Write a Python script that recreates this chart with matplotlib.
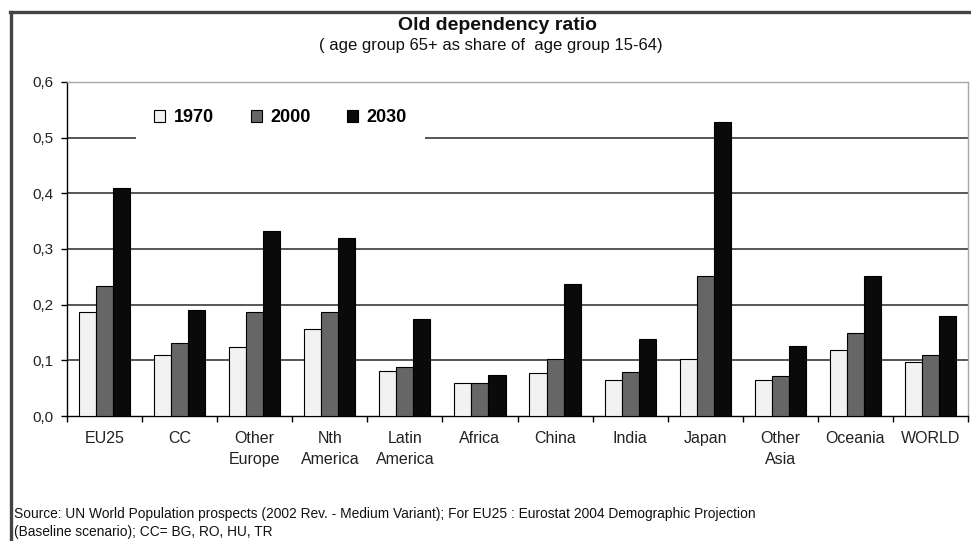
import matplotlib
matplotlib.use("Agg")
import matplotlib.pyplot as plt
import numpy as np
from matplotlib.patches import Patch
from matplotlib.lines import Line2D

plt.rcParams['font.family'] = ['Liberation Sans', 'DejaVu Sans']

categories = ["EU25", "CC", "Other\nEurope", "Nth\nAmerica", "Latin\nAmerica", "Africa",
              "China", "India", "Japan", "Other\nAsia", "Oceania", "WORLD"]
v1970 = [0.187, 0.109, 0.124, 0.156, 0.080, 0.060, 0.077, 0.065, 0.102, 0.065, 0.118, 0.097]
v2000 = [0.234, 0.131, 0.187, 0.187, 0.088, 0.060, 0.102, 0.079, 0.252, 0.072, 0.150, 0.109]
v2030 = [0.410, 0.190, 0.332, 0.320, 0.174, 0.073, 0.238, 0.139, 0.529, 0.126, 0.252, 0.179]
series_names = ["1970", "2000", "2030"]
series_colors = ["#f2f2f2", "#666666", "#0a0a0a"]
yticks = [0.0, 0.1, 0.2, 0.3, 0.4, 0.5, 0.6]
ytick_labels = ["0,0", "0,1", "0,2", "0,3", "0,4", "0,5", "0,6"]

W, H = 971, 541
fig = plt.figure(figsize=(W / 100, H / 100), dpi=100)
ax = fig.add_axes([67 / W, 1 - 416 / H, (968 - 67) / W, (416 - 82) / H])

x = np.arange(len(categories))
bw = 0.227
for i, (vals, col) in enumerate(zip([v1970, v2000, v2030], series_colors)):
    ax.bar(x + (i - 1) * bw, vals, width=bw, color=col, edgecolor="black",
           linewidth=0.8, zorder=3)

ax.set_xlim(-0.5, len(categories) - 0.5)
ax.set_ylim(0, 0.6)
ax.set_yticks(yticks)
ax.set_yticklabels(ytick_labels, fontsize=11, color="#222222")
ax.tick_params(axis="y", length=4, width=1, pad=6, color="black")
ax.set_xticks(x)
ax.set_xticklabels(categories, fontsize=11.5, color="#222222", linespacing=1.45)
ax.tick_params(axis="x", which="major", length=0, pad=11)
ax.set_xticks(np.arange(-0.5, len(categories) + 0.5, 1), minor=True)
ax.tick_params(axis="x", which="minor", length=4, width=1, color="black")

for yv in yticks[1:-1]:
    ax.axhline(yv, color="#3a3a3a", linewidth=1.2, zorder=1)

ax.spines["left"].set_color("black")
ax.spines["left"].set_linewidth(1.0)
ax.spines["bottom"].set_color("black")
ax.spines["bottom"].set_linewidth(1.0)
ax.spines["top"].set_color("#a8a8a8")
ax.spines["right"].set_color("#a8a8a8")
ax.spines["top"].set_linewidth(1.0)
ax.spines["right"].set_linewidth(1.0)

handles = [Patch(facecolor=c, edgecolor="black", linewidth=0.8) for c in series_colors]
leg = ax.legend(handles, series_names, ncol=3, loc="center",
                bbox_to_anchor=(280.5 / W, 1 - 118 / H), bbox_transform=fig.transFigure,
                frameon=True, fancybox=False, framealpha=1, edgecolor="none",
                facecolor="white", borderpad=1.0, handlelength=0.62, handleheight=0.62,
                handletextpad=0.45, columnspacing=2.05,
                prop={"weight": "bold", "size": 13})
leg.set_zorder(5)

fig.text(497.5 / W, 1 - 30 / H, "Old dependency ratio", ha="center", va="baseline",
         fontsize=14, fontweight="bold", color="#111111")
fig.text(491 / W, 1 - 50 / H, "( age group 65+ as share of  age group 15-64)",
         ha="center", va="baseline", fontsize=12, color="#111111")

fig.text(14 / W, 1 - 518 / H,
         "Source: UN World Population prospects (2002 Rev. - Medium Variant); For EU25 : Eurostat 2004 Demographic Projection",
         ha="left", va="baseline", fontsize=9.9, color="#111111")
fig.text(14 / W, 1 - 536 / H, "(Baseline scenario); CC= BG, RO, HU, TR",
         ha="left", va="baseline", fontsize=9.9, color="#111111")

# outer frame (top and left edges visible)
fig.add_artist(Line2D([10.5 / W, 10.5 / W], [1 - 11.5 / H, -0.02], transform=fig.transFigure,
                      color="#444444", linewidth=2.4))
fig.add_artist(Line2D([9.5 / W, 1.02], [1 - 11.5 / H, 1 - 11.5 / H], transform=fig.transFigure,
                      color="#444444", linewidth=2.4))

fig.savefig("out.png", dpi=100)
